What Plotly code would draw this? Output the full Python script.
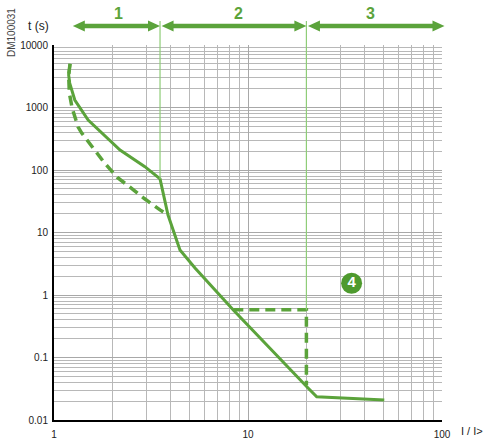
import math
import plotly.graph_objects as go

# ---- data ----
solid_I = [1.21, 1.19, 1.205, 1.28, 1.50, 1.63, 2.01, 2.19, 2.94, 3.52, 3.87, 4.46, 5.33, 8.4, 20.1, 22.6, 50.4]
solid_t = [5000, 3300, 2460, 1318, 631, 491, 270, 209, 113, 72, 19, 5.25, 2.7, 0.575, 0.034, 0.0236, 0.0209]

dash1_I = [1.21, 1.19, 1.20, 1.24, 1.33, 1.39, 1.80, 2.12, 2.51, 2.92, 3.52, 3.87]
dash1_t = [5000, 3300, 1700, 980, 490, 389, 136, 76, 51, 35, 23, 19]

dash2_I = [8.4, 20, 20]
dash2_t = [0.58, 0.58, 0.036]

zone_edges = [1.25, 3.52, 20, 103]          # arrow extents (I / I>)
zone_labels = ["1", "2", "3"]
boundary_I = [3.52, 20]
boundary_t = [72, 0.58]

marker_I = [34.2]
marker_t = [1.54]
marker_label = ["<b>4</b>"]

y_tickvals = [0.01, 0.1, 1, 10, 100, 1000, 10000]
y_ticktext = ["0.01", "0.1", "1", "10", "100", "1000", "10000"]
x_tickvals = [1, 10, 100]
x_ticktext = ["1", "10", "100"]

GREEN = "#5ba33b"
DARK = "#4e9a2e"
LIGHT = "#8fcd78"
FONT = "Liberation Sans, Arial, sans-serif"

fig = go.Figure()
fig.add_trace(go.Scatter(x=solid_I, y=solid_t, mode="lines", line_shape="linear",
                         line=dict(color=GREEN, width=3), hoverinfo="skip"))
fig.add_trace(go.Scatter(x=dash1_I, y=dash1_t, mode="lines",
                         line=dict(color=GREEN, width=3.5, dash="10px,6px"), hoverinfo="skip"))
fig.add_trace(go.Scatter(x=dash2_I, y=dash2_t, mode="lines",
                         line=dict(color=GREEN, width=3.5, dash="10px,6px"), hoverinfo="skip"))
fig.add_trace(go.Scatter(x=marker_I, y=marker_t, mode="markers+text", text=marker_label,
                         textposition="middle center",
                         textfont=dict(color="white", size=15, family=FONT),
                         marker=dict(size=21, color=DARK), hoverinfo="skip", cliponaxis=False))

shapes = []
# boundary lines (inside plot, data coords)
for bx, bt in zip(boundary_I, boundary_t):
    shapes.append(dict(type="line", xref="x", yref="y", x0=bx, x1=bx, y0=bt, y1=10000,
                       line=dict(color=LIGHT, width=1.2), layer="above"))
    px = math.log10(bx) / 2
    shapes.append(dict(type="line", xref="paper", yref="paper", x0=px, x1=px, y0=1.0, y1=1.064,
                       line=dict(color=LIGHT, width=1.2)))

# arrows above plot
AY = 1.0507
HL = 12 / 388
HH = 5.5 / 375
for i in range(3):
    a = math.log10(zone_edges[i]) / 2
    b = math.log10(zone_edges[i + 1]) / 2
    if i > 0:
        a += 0.004
    shapes.append(dict(type="line", xref="paper", yref="paper", x0=a + HL * 0.8, x1=b - HL * 0.8,
                       y0=AY, y1=AY, line=dict(color=GREEN, width=4.5)))
    shapes.append(dict(type="path", xref="paper", yref="paper",
                       path=f"M {a},{AY} L {a+HL},{AY+HH} L {a+HL},{AY-HH} Z",
                       fillcolor=GREEN, line=dict(width=0)))
    shapes.append(dict(type="path", xref="paper", yref="paper",
                       path=f"M {b},{AY} L {b-HL},{AY+HH} L {b-HL},{AY-HH} Z",
                       fillcolor=GREEN, line=dict(width=0)))

annotations = []
label_x = [118, 238, 370]
for lx, lab in zip(label_x, zone_labels):
    annotations.append(dict(xref="paper", yref="paper", x=(lx - 54) / 388, y=1.085, text=f"<b>{lab}</b>",
                            showarrow=False, font=dict(color=GREEN, size=16, family=FONT),
                            xanchor="center", yanchor="middle"))
annotations.append(dict(xref="paper", yref="paper", x=(38 - 54) / 388, y=(420 - 26) / 375, text="t (s)",
                        showarrow=False, font=dict(color="#222", size=12, family=FONT),
                        xanchor="center", yanchor="middle"))
annotations.append(dict(xref="paper", yref="paper", x=(12 - 54) / 388, y=(420 - 33) / 375, text="DM100031",
                        showarrow=False, textangle=-90, font=dict(color="#444", size=10, family=FONT),
                        xanchor="center", yanchor="middle"))
annotations.append(dict(xref="paper", yref="paper", x=(472 - 54) / 388, y=(420 - 431) / 375, text="I / I>",
                        showarrow=False, font=dict(color="#222", size=11, family=FONT),
                        xanchor="center", yanchor="middle"))

fig.update_layout(
    width=485, height=442,
    margin=dict(l=54, r=43, t=45, b=22, autoexpand=False),
    paper_bgcolor="white", plot_bgcolor="white",
    showlegend=False,
    font=dict(family=FONT, size=10, color="#222"),
    shapes=shapes, annotations=annotations,
    xaxis=dict(type="log", range=[0, 2], tickvals=x_tickvals, ticktext=x_ticktext, automargin=False,
               showgrid=True, gridcolor="#a8a8a8", gridwidth=1, ticklabelstandoff=4,
               minor=dict(dtick="D1", showgrid=True, gridcolor="#b8b8b8", gridwidth=1, ticks=""),
               showline=True, linecolor="black", linewidth=2, ticks="", zeroline=False,
               tickfont=dict(size=10, family=FONT, color="#222")),
    yaxis=dict(type="log", range=[-2, 4], tickvals=y_tickvals, ticktext=y_ticktext, automargin=False,
               showgrid=True, gridcolor="#a8a8a8", gridwidth=1, ticklabelstandoff=2,
               minor=dict(dtick="D1", showgrid=True, gridcolor="#b8b8b8", gridwidth=1, ticks=""),
               showline=True, linecolor="black", linewidth=2, ticks="", zeroline=False,
               tickfont=dict(size=10, family=FONT, color="#222")),
)

fig.write_html("out.html", config={"displayModeBar": False},
               post_script="document.body.style.margin='0';document.body.style.overflow='hidden';")
